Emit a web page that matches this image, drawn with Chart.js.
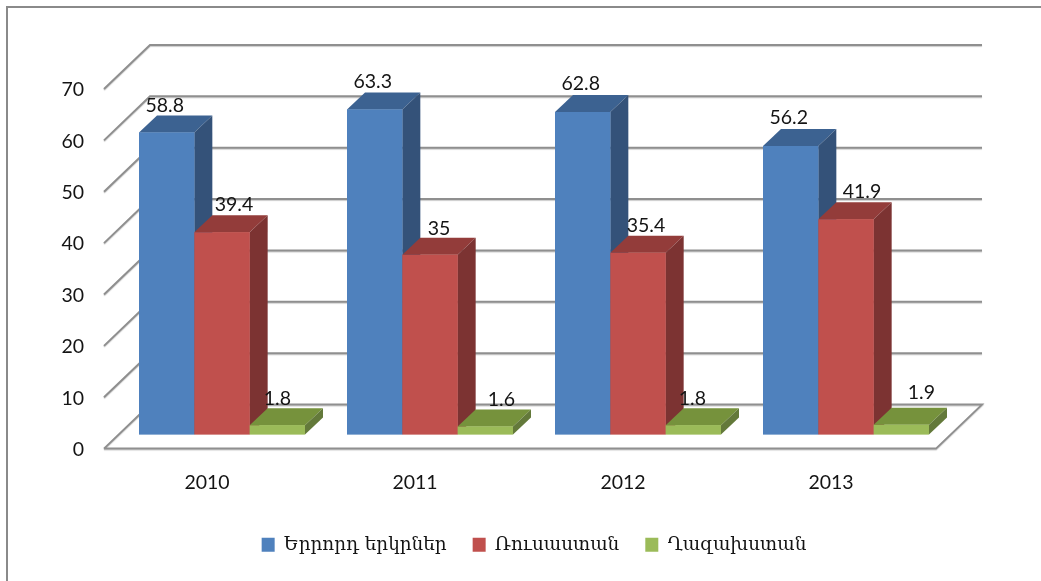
<!DOCTYPE html>
<html lang="hy">
<head>
  <meta charset="UTF-8" />
  <title>3D bars</title>
  <script src="https://cdn.jsdelivr.net/npm/chart.js"></script>
  <style>
    body { margin: 0; background: #fff; }
    canvas { display: block; }
  </style>
</head>
<body>
  <canvas id="chart" width="1041" height="581"></canvas>
  <script>
    const years = ['2010', '2011', '2012', '2013'];
    const seriesNames = ['Երրորդ երկրներ', 'Ռուսաստան', 'Ղազախստան'];
    const thirdCountries = [58.8, 63.3, 62.8, 56.2];
    const russia = [39.4, 35, 35.4, 41.9];
    const kazakhstan = [1.8, 1.6, 1.8, 1.9];

    // hand placed labels in the original, so nudge each one
    const labelDx = [[-2, -2, -2, -2], [12, 9, 8, 16], [0, 16, -1, 20]];
    const labelDy = [[-27, -28, -28, -28], [-27, -26, -27, -28], [-27, -27, -27, -32]];

    const numberFamily = 'Lato';
    const numberSize = 19.5;
    const textColor = '#141414';

    // side and top colours of the boxes
    const topColors = ['#3c6291', '#933c3a', '#76923c'];
    const sideColors = ['#345279', '#7c3332', '#63793a'];

    function poly(ctx, pts, color) {
      ctx.fillStyle = color;
      ctx.beginPath();
      pts.forEach((p, i) => i ? ctx.lineTo(p[0], p[1]) : ctx.moveTo(p[0], p[1]));
      ctx.closePath();
      ctx.fill();
    }

    const frame3d = {
      id: 'frame3d',
      beforeDraw(chart) {
        const ctx = chart.ctx;
        ctx.save();
        // the picture is cropped, only the left and top border are left
        ctx.strokeStyle = '#8a8a8a';
        ctx.lineWidth = 2;
        ctx.beginPath();
        ctx.moveTo(7, chart.height);
        ctx.lineTo(7, 7);
        ctx.lineTo(chart.width, 7);
        ctx.stroke();
        ctx.restore();
      },
      beforeDatasetsDraw(chart) {
        const { ctx, scales: { x, y } } = chart;
        ctx.save();
        ctx.strokeStyle = '#8f8f8f';
        ctx.lineWidth = 2;
        ctx.shadowColor = 'rgba(0, 0, 0, 0.2)';
        ctx.shadowOffsetY = 1;
        ctx.shadowBlur = 1;
        y.ticks.forEach(t => {
          const py = y.getPixelForValue(t.value);
          ctx.beginPath();
          ctx.moveTo(x.left - 14, py + 14);
          ctx.lineTo(x.left + 32, py - 30);
          ctx.lineTo(x.right + 32, py - 30);
          if (t.value === 0) {
            ctx.lineTo(x.right - 14, py + 14);
            ctx.lineTo(x.left - 14, py + 14);
          }
          ctx.stroke();
        });
        ctx.restore();
      },
      afterDatasetsDraw(chart) {
        const ctx = chart.ctx;
        const dx = 18, dy = 17;
        ctx.save();
        // first series first, each box covers the side of the one before it
        chart.data.datasets.forEach((ds, d) => {
          chart.getDatasetMeta(d).data.forEach(bar => {
            const l = bar.x - bar.width / 2;
            const r = bar.x + bar.width / 2;
            poly(ctx, [[l, bar.y], [l + dx, bar.y - dy], [r + dx, bar.y - dy], [r, bar.y]], topColors[d]);
            poly(ctx, [[r, bar.y], [r + dx, bar.y - dy], [r + dx, bar.base - dy], [r, bar.base]], sideColors[d]);
            bar.draw(ctx);
          });
        });
        ctx.font = numberSize + 'px ' + numberFamily;
        ctx.fillStyle = textColor;
        ctx.textAlign = 'center';
        ctx.textBaseline = 'middle';
        chart.data.datasets.forEach((ds, d) => {
          chart.getDatasetMeta(d).data.forEach((bar, i) => {
            ctx.fillText(String(ds.data[i]), bar.x + labelDx[d][i], bar.y + labelDy[d][i]);
          });
        });
        ctx.restore();
      }
    };

    new Chart(document.getElementById('chart'), {
      type: 'bar',
      data: {
        labels: years,
        datasets: [
          { label: seriesNames[0], data: thirdCountries, backgroundColor: '#4f81bd' },
          { label: seriesNames[1], data: russia, backgroundColor: '#c0504d' },
          { label: seriesNames[2], data: kazakhstan, backgroundColor: '#9bbb59' }
        ]
      },
      plugins: [frame3d],
      options: {
        responsive: false,
        animation: false,
        layout: { padding: { left: 0, right: 91, top: 75, bottom: 17 } },
        datasets: { bar: { categoryPercentage: 0.798, barPercentage: 1 } },
        scales: {
          x: {
            grid: { display: false },
            border: { display: false },
            ticks: { labelOffset: -15, padding: 28, color: textColor, font: { family: numberFamily, size: numberSize }, maxRotation: 0 },
            afterFit(scale) { scale.height = 75; }
          },
          y: {
            min: 0,
            max: 70,
            grid: { display: false },
            border: { display: false },
            ticks: { stepSize: 10, labelOffset: 15, padding: 26, color: textColor, font: { family: numberFamily, size: numberSize } },
            afterFit(scale) { scale.width = 118; }
          }
        },
        plugins: {
          tooltip: { enabled: false },
          legend: {
            position: 'bottom',
            fullSize: false,
            labels: {
              boxWidth: 13,
              boxHeight: 14,
              padding: 26,
              color: textColor,
              font: { family: "'DejaVu Serif'", size: 18.4 }
            }
          }
        }
      }
    });
  </script>
</body>
</html>
